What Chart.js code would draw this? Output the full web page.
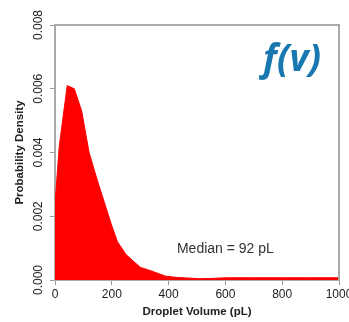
<!DOCTYPE html>
<html lang="en">
<head>
    <meta charset="UTF-8">
    <title>Droplet volume density</title>
    <script src="https://cdn.jsdelivr.net/npm/chart.js@4/dist/chart.umd.min.js"></script>
    <style>
        html, body { margin: 0; padding: 0; background: #fff; }
        #wrap { width: 349px; height: 322px; }
    </style>
</head>
<body>
    <div id="wrap"><canvas id="densityChart"></canvas></div>

    <script>
        // Droplet volume (pL) and probability density
        const volumes = [0, 15, 43, 68, 94, 120, 150, 175, 200, 220, 250, 300, 350, 390, 430, 470, 510, 550, 600, 700, 800, 900, 1000];
        const density = [0.0024, 0.0042, 0.0061, 0.0060, 0.0053, 0.0040, 0.0031, 0.0024, 0.0017, 0.0012, 0.0008, 0.0004, 0.00025, 0.00012, 0.00008, 0.00006, 0.00004, 0.00005, 0.00007, 0.00007, 0.00007, 0.00007, 0.00007];
        const xTicks = [0, 200, 400, 600, 800, 1000];
        const yTicks = [0, 0.002, 0.004, 0.006, 0.008];

        const axisGrey = '#aaaaaa';

        // rotated y labels, titles, box and annotations
        const extras = {
            id: 'extras',
            afterDraw(chart) {
                const ctx = chart.ctx;
                const area = chart.chartArea;
                const xs = chart.scales.x;
                const ys = chart.scales.y;

                ctx.save();
                // top + right box lines
                ctx.strokeStyle = axisGrey;
                ctx.lineWidth = 2;
                ctx.beginPath();
                ctx.moveTo(area.left, area.top);
                ctx.lineTo(area.right, area.top);
                ctx.lineTo(area.right, area.bottom);
                ctx.stroke();

                // y tick labels, rotated
                ctx.fillStyle = '#222';
                ctx.font = '12px "Liberation Sans", Arial, sans-serif';
                ctx.textAlign = 'center';
                ctx.textBaseline = 'middle';
                yTicks.forEach(v => {
                    const y = ys.getPixelForValue(v);
                    ctx.save();
                    ctx.translate(39, y);
                    ctx.rotate(-Math.PI / 2);
                    ctx.fillText(v.toFixed(3), 0, 0);
                    ctx.restore();
                });

                // axis titles
                ctx.font = 'bold 11.5px "Liberation Sans", Arial, sans-serif';
                ctx.save();
                ctx.translate(20, (area.top + area.bottom) / 2);
                ctx.rotate(-Math.PI / 2);
                ctx.fillText('Probability Density', 0, 0);
                ctx.restore();
                ctx.fillText('Droplet Volume (pL)', (area.left + area.right) / 2, 312);

                // median note
                ctx.font = '14px "Liberation Sans", Arial, sans-serif';
                ctx.fillStyle = '#333';
                ctx.textBaseline = 'alphabetic';
                ctx.fillText('Median = 92 pL', xs.getPixelForValue(600), ys.getPixelForValue(0.00084));

                // f(v) label
                ctx.font = 'italic bold 37px "Open Sans", sans-serif';
                ctx.fillStyle = '#1a78b0';
                ctx.fillText('f(v)', 292, 71);
                ctx.restore();
            }
        };

        new Chart(document.getElementById('densityChart'), {
            type: 'line',
            data: {
                datasets: [{
                    data: volumes.map((v, i) => ({ x: v, y: density[i] })),
                    backgroundColor: '#ff0000',
                    borderColor: '#ff0000',
                    borderWidth: 1,
                    fill: 'origin',
                    pointRadius: 0,
                    tension: 0
                }]
            },
            options: {
                responsive: true,
                maintainAspectRatio: false,
                animation: false,
                layout: { padding: { top: 25, right: 10, left: 0, bottom: 0 } },
                plugins: { legend: { display: false }, tooltip: { enabled: false } },
                scales: {
                    x: {
                        type: 'linear',
                        min: 0,
                        max: 1000,
                        afterBuildTicks: s => { s.ticks = xTicks.map(v => ({ value: v })); },
                        afterFit: s => { s.height = 42; s.paddingLeft = 0; s.paddingRight = 0; },
                        ticks: {
                            color: '#222',
                            font: { family: '"Liberation Sans", Arial, sans-serif', size: 12 },
                            padding: 2,
                            maxRotation: 0,
                            callback: v => String(v)
                        },
                        grid: { drawOnChartArea: false, color: '#999', tickLength: 5 },
                        border: { color: axisGrey, width: 2 }
                    },
                    y: {
                        min: 0,
                        max: 0.008,
                        afterBuildTicks: s => { s.ticks = yTicks.map(v => ({ value: v })); },
                        afterFit: s => { s.width = 55; s.paddingTop = 0; s.paddingBottom = 0; },
                        ticks: { display: false },
                        grid: { drawOnChartArea: false, color: '#999', tickLength: 5 },
                        border: { color: axisGrey, width: 2 }
                    }
                }
            },
            plugins: [extras]
        });
    </script>
</body>
</html>
